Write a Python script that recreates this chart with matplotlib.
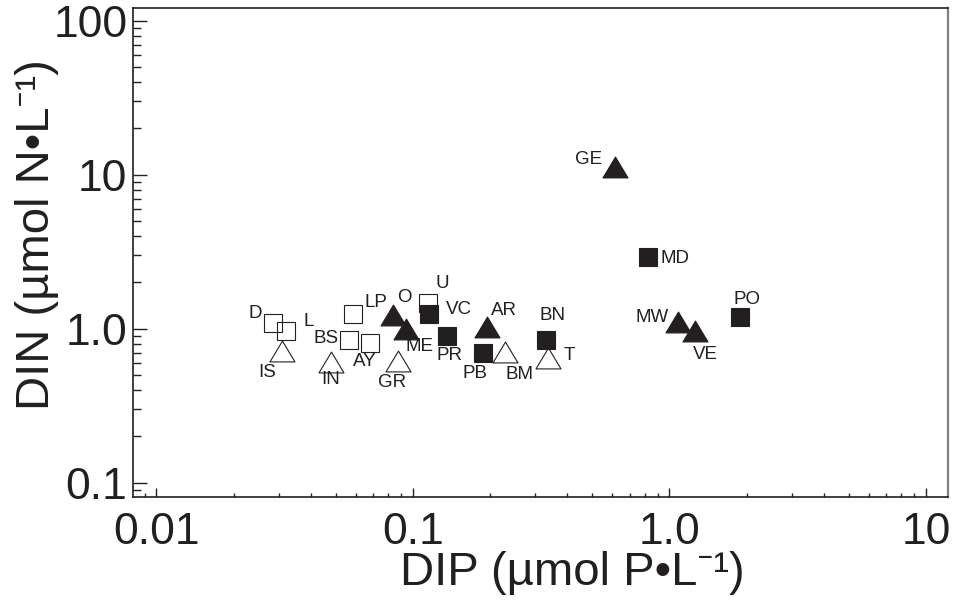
import matplotlib.pyplot as plt
from matplotlib.path import Path
from matplotlib.ticker import FixedLocator, FixedFormatter, LogLocator, NullFormatter

plt.rcParams['font.family'] = ['Liberation Sans', 'Noto Sans', 'DejaVu Sans']

ink = '#231f20'

# open squares
osq_site = ['D', 'L', 'LP', 'BS', 'AY', 'U']
osq_dip = [0.0286, 0.0319, 0.0584, 0.0562, 0.0679, 0.1146]
osq_din = [1.09, 0.97, 1.25, 0.84, 0.81, 1.47]

# filled squares
fsq_site = ['VC', 'PR', 'PB', 'BN', 'MD', 'PO']
fsq_dip = [0.1155, 0.136, 0.1875, 0.331, 0.828, 1.89]
fsq_din = [1.25, 0.90, 0.70, 0.85, 2.93, 1.20]

# filled triangles
ftr_site = ['O', 'ME', 'AR', 'GE', 'MW', 'VE']
ftr_dip = [0.0836, 0.094, 0.195, 0.615, 1.08, 1.26]
ftr_din = [1.23, 1.00, 1.03, 11.3, 1.11, 0.97]

# open triangles
otr_site = ['IS', 'IN', 'GR', 'BM', 'T']
otr_dip = [0.031, 0.0479, 0.0873, 0.229, 0.336]
otr_din = [0.72, 0.61, 0.62, 0.71, 0.65]

x_ticks = [0.01, 0.1, 1.0, 10]
x_ticklabels = ['0.01', '0.1', '1.0', '10']
y_ticks = [0.1, 1.0, 10, 100]
y_ticklabels = ['0.1', '1.0', '10', '100']

# label offsets in pixels (dx, dy)
offsets = {
    'D': (-18, 10), 'L': (23, 9), 'LP': (23, 11), 'BS': (-23, 2), 'AY': (-5, -19),
    'U': (14, 20), 'VC': (30, 4), 'PR': (2, -20), 'PB': (-8, -21), 'BN': (6, 24),
    'MD': (27, -2), 'PO': (7, 17), 'O': (11, 17), 'ME': (13, -18), 'AR': (17, 16),
    'GE': (-27, 7), 'MW': (-26, 4), 'VE': (10, -24), 'IS': (-15, -22),
    'IN': (0, -18), 'GR': (-6, -22), 'BM': (14, -23), 'T': (21, 2),
}

# flattened triangle, closed so the open ones get all three sides
tri = Path([(0, 1), (-1.2, -1), (1.2, -1), (0, 1)],
           [Path.MOVETO, Path.LINETO, Path.LINETO, Path.CLOSEPOLY])

fig = plt.figure(figsize=(9.6, 6.12), dpi=100)
ax = fig.add_axes([0.1385, 0.188, 0.849, 0.799])
ax.set_xscale('log')
ax.set_yscale('log')

ax.plot(osq_dip, osq_din, ls='none', marker='s', ms=13.2, mfc='none', mec=ink, mew=0.8)
ax.plot(otr_dip, otr_din, ls='none', marker=tri, ms=18, mfc='none', mec=ink, mew=0.8)
ax.plot(ftr_dip, ftr_din, ls='none', marker=tri, ms=18, mfc=ink, mec=ink, mew=0.8)
ax.plot(fsq_dip, fsq_din, ls='none', marker='s', ms=13.2, mfc=ink, mec=ink, mew=0.8)

for sites, xs, ys in [(osq_site, osq_dip, osq_din), (fsq_site, fsq_dip, fsq_din),
                      (ftr_site, ftr_dip, ftr_din), (otr_site, otr_dip, otr_din)]:
    for s, x, y in zip(sites, xs, ys):
        ax.annotate(s, (x, y), xytext=offsets[s], textcoords='offset pixels',
                    ha='center', va='center', fontsize=13.5, color=ink)

ax.set_xlim(0.0081, 12.2)
ax.set_ylim(0.081, 121)

ax.xaxis.set_major_locator(FixedLocator(x_ticks))
ax.xaxis.set_major_formatter(FixedFormatter(x_ticklabels))
ax.yaxis.set_major_locator(FixedLocator(y_ticks))
ax.yaxis.set_major_formatter(FixedFormatter(y_ticklabels))
ax.xaxis.set_minor_locator(LogLocator(base=10, subs=range(2, 10)))
ax.yaxis.set_minor_locator(LogLocator(base=10, subs=range(2, 10)))
ax.xaxis.set_minor_formatter(NullFormatter())
ax.yaxis.set_minor_formatter(NullFormatter())

ax.tick_params(axis='both', which='both', direction='in', colors=ink, top=False, right=False)
ax.tick_params(axis='y', which='major', length=10, width=1, labelsize=32, pad=4)
ax.tick_params(axis='y', which='minor', length=6, width=1)
ax.tick_params(axis='x', which='major', length=6.5, width=1, labelsize=32, pad=11)
ax.tick_params(axis='x', which='minor', length=3, width=1)

for side in ['left', 'bottom', 'top']:
    ax.spines[side].set_color(ink)
    ax.spines[side].set_linewidth(1.2)
ax.spines['right'].set_color('#808080')
ax.spines['right'].set_linewidth(1.6)

ax.set_xlabel('DIP (µmol P•L⁻¹)', fontsize=34, color=ink)
ax.set_ylabel('DIN (µmol N•L⁻¹)', fontsize=34, color=ink)
ax.xaxis.set_label_coords(0.539, -0.110)
ax.yaxis.set_label_coords(-0.091, 0.536)

fig.savefig('out.png', dpi=100)
